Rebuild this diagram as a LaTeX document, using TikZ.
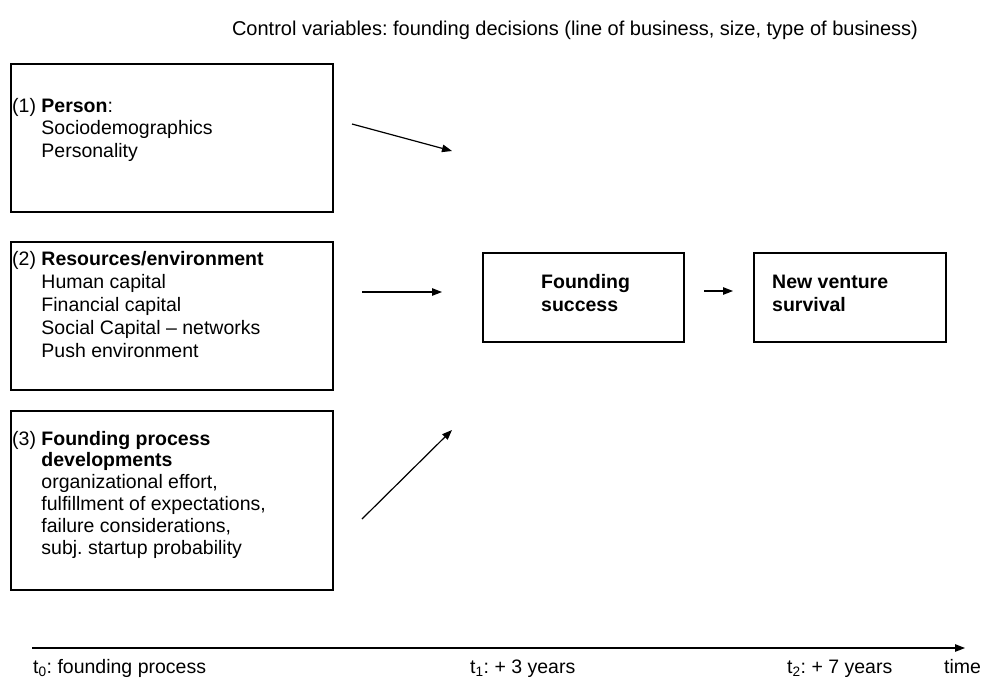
\documentclass[tikz,border=0pt]{standalone}
\usepackage{fontspec}
\setmainfont{Liberation Sans}
\usetikzlibrary{arrows.meta}
\frenchspacing

\tikzset{
  box/.style={draw, line width=1.5pt, inner sep=0pt, anchor=north west},
  txt/.style={anchor=base west, align=left, inner sep=0pt, font=\fontsize{19.5}{22.5}\selectfont},
  arr/.style={line width=1.2pt, -{Triangle[length=10pt,width=7.5pt]}}
}

\begin{document}
\begin{tikzpicture}[x=1pt,y=-1pt]
\useasboundingbox (0,0) rectangle (983,678);

\node[txt, anchor=center, font=\fontsize{20}{23}\selectfont] (ctrl) at (575,30) {Control variables: founding decisions (line of business, size, type of business)};

% the three groups of factors
\node[box, minimum width=322pt, minimum height=148pt] (person) at (10,63) {};
\node[box, minimum width=322pt, minimum height=148pt] (resources) at (10,241) {};
\node[box, minimum width=322pt, minimum height=179pt] (process) at (10,410) {};

% base west of a multi-line node sits on its last line
\node[txt] (persontxt) at (12,157) {(1) \textbf{Person}:\\
\phantom{(1) }Sociodemographics\\
\phantom{(1) }Personality};
\node[txt, font=\fontsize{19.5}{23}\selectfont] (resourcestxt) at (12,357) {(2) \textbf{Resources/environment}\\
\phantom{(2) }Human capital\\
\phantom{(2) }Financial capital\\
\phantom{(2) }Social Capital -- networks\\
\phantom{(2) }Push environment};
\node[txt, font=\fontsize{19.5}{21.8}\selectfont] (processtxt) at (12,554) {(3) \textbf{Founding process}\\
\phantom{(3) }\textbf{developments}\\
\phantom{(3) }organizational effort,\\
\phantom{(3) }fulfillment of expectations,\\
\phantom{(3) }failure considerations,\\
\phantom{(3) }subj. startup probability};

% outcomes
\node[box, minimum width=201pt, minimum height=89pt] (success) at (482,252) {};
\node[box, minimum width=192pt, minimum height=89pt] (survival) at (753,252) {};
\node[txt] (successtxt) at (541,311) {\textbf{Founding}\\ \textbf{success}};
\node[txt] (survivaltxt) at (772,311) {\textbf{New venture}\\ \textbf{survival}};

% arrows
\coordinate (p1) at (352,124); \coordinate (q1) at (452,151);
\coordinate (p2) at (362,292); \coordinate (q2) at (442,292);
\coordinate (p3) at (362,519); \coordinate (q3) at (452,430);
\coordinate (p4) at (704,291); \coordinate (q4) at (733,291);
\draw[arr] (p1) -- (q1);
\draw[arr] (p2) -- (q2);
\draw[arr] (p3) -- (q3);
\draw[arr] (p4) -- (q4);

% time axis
\coordinate (t0) at (32,648); \coordinate (tend) at (965,648);
\draw[arr] (t0) -- (tend);
\node[txt] (lab0) at (33,673) {t\textsubscript{0}: founding process};
\node[txt] (lab1) at (470,673) {t\textsubscript{1}: + 3 years};
\node[txt] (lab2) at (787,673) {t\textsubscript{2}: + 7 years};
\node[txt] (labtime) at (944,673) {time};

\end{tikzpicture}
\end{document}
